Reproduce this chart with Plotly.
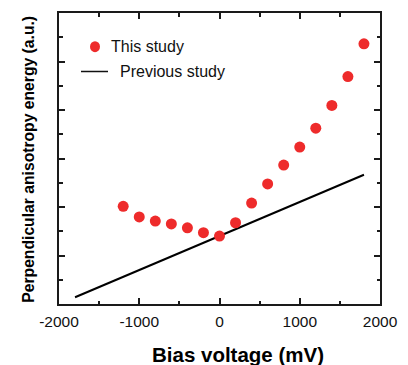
import plotly.graph_objects as go

# ---- data ----
bias_mv = [-1200, -1000, -800, -600, -400, -200, 0, 200, 400, 600, 800, 1000, 1200, 1400, 1600, 1800]
this_study = [4.03, 3.59, 3.42, 3.30, 3.14, 2.94, 2.80, 3.35, 4.16, 4.95, 5.73, 6.47, 7.25, 8.19, 9.38, 10.73]
prev_bias_mv = [-1800, 1800]
prev_study = [0.28, 5.33]
x_ticks = [-2000, -1000, 0, 1000, 2000]
x_tick_labels = ["-2000", "-1000", "0", "1000", "2000"]
legend_labels = ["This study", "Previous study"]

RED = "#ee2b2b"
AX = "#1a1a1a"
FONT = "Liberation Sans, Arial, sans-serif"

# page body has an 8px margin; work in screen pixels and convert
OFF = 8
W, H = 408 - OFF, 365 - OFF
L, R, T, B = 59 - OFF, 28, 11 - OFF, 60.5
pw, ph = W - L - R, H - T - B


def px(xs):
    return (xs - OFF - L) / pw


def py(ys):
    return (H - B - (ys - OFF)) / ph


fig = go.Figure()
fig.add_trace(go.Scatter(x=prev_bias_mv, y=prev_study, mode="lines",
                         line=dict(color="#000000", width=2), showlegend=False))
fig.add_trace(go.Scatter(x=bias_mv, y=this_study, mode="markers",
                         marker=dict(color=RED, size=11, line=dict(width=0)), showlegend=False))

axis_common = dict(showgrid=False, zeroline=False, showline=True, linecolor=AX, linewidth=2,
                   mirror="allticks", ticks="inside", tickcolor=AX, tickwidth=1.5, ticklen=6)

fig.update_xaxes(range=[-2000, 2000], tickvals=x_ticks, ticktext=x_tick_labels,
                 tickfont=dict(family=FONT, size=15.5, color="#111"), ticklabelstandoff=2,
                 minor=dict(dtick=500, ticks="inside", ticklen=3.5, tickcolor=AX, tickwidth=1.5),
                 **axis_common)
fig.update_yaxes(range=[0, 12], dtick=2, tick0=0, showticklabels=False,
                 minor=dict(dtick=1, ticks="inside", ticklen=3.5, tickcolor=AX, tickwidth=1.5),
                 **axis_common)

annotations = [
    dict(text="<b>Bias voltage (mV)</b>", xref="paper", yref="paper", x=px(238), y=py(355),
         showarrow=False, xanchor="center", yanchor="middle",
         font=dict(family=FONT, size=20.5, color="#000")),
    dict(text="<b>Perpendicular anisotropy energy (a.u.)</b>", xref="paper", yref="paper",
         x=px(29), y=py(159), textangle=-90, showarrow=False, xanchor="center", yanchor="middle",
         font=dict(family=FONT, size=15.7, color="#000")),
    dict(text=legend_labels[0], xref="paper", yref="paper", x=px(109), y=py(45),
         showarrow=False, xanchor="left", yanchor="middle",
         font=dict(family=FONT, size=16, color="#111")),
    dict(text=legend_labels[1], xref="paper", yref="paper", x=px(118), y=py(70),
         showarrow=False, xanchor="left", yanchor="middle",
         font=dict(family=FONT, size=16, color="#111")),
]

shapes = [
    dict(type="circle", xref="paper", yref="paper", xsizemode="pixel", ysizemode="pixel",
         xanchor=px(95), yanchor=py(45), x0=-5, x1=5, y0=-5.5, y1=5.5,
         fillcolor=RED, line=dict(width=0)),
    dict(type="line", xref="paper", yref="paper", x0=px(81), x1=px(108), y0=py(70), y1=py(70),
         line=dict(color="#111", width=1.5)),
]

fig.update_layout(width=W, height=H, margin=dict(l=L, r=R, t=T, b=B),
                  paper_bgcolor="white", plot_bgcolor="white",
                  annotations=annotations, shapes=shapes, showlegend=False)

fig.write_html("out.html")
